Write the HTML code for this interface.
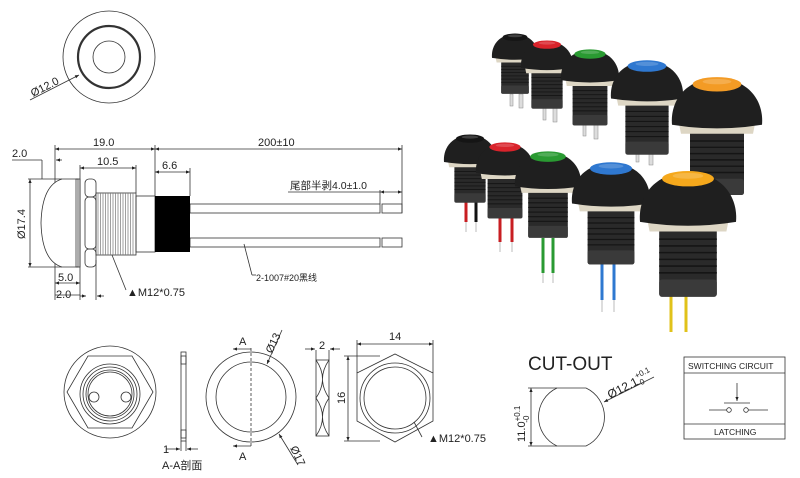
<!DOCTYPE html>
<html><head><meta charset="utf-8"><style>
html,body{margin:0;padding:0;background:#fff}
svg{display:block}
text{font-family:"Liberation Sans","Noto Sans CJK SC",sans-serif;fill:#222}
</style></head><body>
<svg width="800" height="478" viewBox="0 0 800 478" xmlns="http://www.w3.org/2000/svg">
<defs>
<marker id="ar" viewBox="0 0 10 10" refX="10" refY="5" markerWidth="7" markerHeight="5" orient="auto-start-reverse"><path d="M0,1 L10,5 L0,9 Z" fill="#222"/></marker>
<g id="btn">
<rect x="-30" y="56" width="60" height="74" rx="3" fill="#2a2a2a"/>
<rect x="-30" y="112" width="60" height="18" rx="3" fill="#3a3a3a"/>
<g stroke="#151515" stroke-width="1.6"><line x1="-30" y1="70" x2="30" y2="70"/><line x1="-30" y1="77" x2="30" y2="77"/><line x1="-30" y1="84" x2="30" y2="84"/><line x1="-30" y1="91" x2="30" y2="91"/><line x1="-30" y1="98" x2="30" y2="98"/><line x1="-30" y1="105" x2="30" y2="105"/></g>
<path d="M-42,52 L42,52 L40,62 L-40,62 Z" fill="#ddd6c4"/>
<path d="M-50,52 C-52,30 -40,2 0,0 C40,2 52,30 50,52 Q0,60 -50,52 Z" fill="#1f1f1f"/>
<ellipse cx="0" cy="7" rx="27" ry="8" fill="currentColor"/>
<ellipse cx="0" cy="4" rx="16" ry="3" fill="#fff" opacity="0.18"/>
</g>
</defs>
<g fill="none" stroke="#333" stroke-width="0.8">
<circle cx="109" cy="57" r="46"/>
<circle cx="109" cy="57" r="31" stroke-width="2.2"/>
<circle cx="109" cy="57" r="16"/>
<line x1="30" y1="100" x2="79" y2="75" marker-end="url(#ar)"/>
</g>
<text x="0" y="0" font-size="11" transform="translate(33,97) rotate(-27)">Ø12.0</text>

<g fill="none" stroke="#333" stroke-width="0.8">
<line x1="55" y1="149" x2="155" y2="149" marker-start="url(#ar)" marker-end="url(#ar)"/>
<line x1="155" y1="149" x2="402" y2="149" marker-start="url(#ar)" marker-end="url(#ar)"/>
<line x1="55" y1="145" x2="55" y2="300"/>
<line x1="155" y1="145" x2="155" y2="196"/>
<line x1="402" y1="145" x2="402" y2="213"/>
<line x1="12" y1="160" x2="42" y2="160"/>
<line x1="42" y1="160" x2="42" y2="179"/>
<line x1="62" y1="160" x2="56" y2="160" marker-end="url(#ar)"/>
<line x1="80" y1="168" x2="136" y2="168" marker-start="url(#ar)" marker-end="url(#ar)"/>
<line x1="80" y1="165" x2="80" y2="300"/>
<line x1="136" y1="165" x2="136" y2="193"/>
<line x1="155" y1="172" x2="190" y2="172" marker-start="url(#ar)" marker-end="url(#ar)"/>
<line x1="190" y1="168" x2="190" y2="196"/>
<line x1="30" y1="179" x2="30" y2="267" marker-start="url(#ar)" marker-end="url(#ar)"/>
<line x1="28" y1="179" x2="62" y2="179"/>
<line x1="28" y1="267" x2="62" y2="267"/>
<path d="M78,179 L62,179 Q42,185 41,223 Q42,261 62,267 L78,267 Z" fill="#fff"/>
<rect x="76" y="179" width="4" height="88"/>
<rect x="85" y="179" width="11" height="18" rx="4"/>
<rect x="85" y="197" width="11" height="52" rx="4"/>
<rect x="85" y="249" width="11" height="18" rx="4"/>
<rect x="96" y="193" width="40" height="62"/>
<rect x="136" y="196" width="19" height="56"/>
<line x1="55" y1="283" x2="80" y2="283" marker-start="url(#ar)" marker-end="url(#ar)"/>
<line x1="55" y1="295" x2="80" y2="295"/>
<line x1="96" y1="260" x2="96" y2="300"/>
<line x1="104" y1="296" x2="97" y2="296" marker-end="url(#ar)"/>
<line x1="80" y1="296" x2="86" y2="296" marker-end="url(#ar)"/>
<line x1="112" y1="255" x2="126" y2="290"/>
<rect x="190" y="204" width="190" height="9"/>
<rect x="382" y="204" width="20" height="9"/>
<rect x="190" y="238" width="190" height="9"/>
<rect x="382" y="238" width="20" height="9"/>
<line x1="288" y1="192" x2="380" y2="192"/>
<line x1="380" y1="190" x2="380" y2="204"/>
<line x1="380" y1="192" x2="402" y2="192" marker-start="url(#ar)" marker-end="url(#ar)"/>
<line x1="244" y1="244" x2="252" y2="275"/>
<line x1="252" y1="275" x2="256" y2="275"/>
</g>
<g stroke="#777" stroke-width="0.7">
<path d="M98,193v62M100.5,193v62M103,193v62M105.5,193v62M108,193v62M110.5,193v62M113,193v62M115.5,193v62M118,193v62M120.5,193v62M123,193v62M125.5,193v62M128,193v62M130.5,193v62M133,193v62"/>
</g>
<rect x="155" y="196" width="35" height="56" fill="#000"/>
<text x="93" y="146" font-size="11">19.0</text>
<text x="258" y="146" font-size="11">200±10</text>
<text x="12" y="157" font-size="11">2.0</text>
<text x="97" y="165" font-size="11">10.5</text>
<text x="162" y="169" font-size="11">6.6</text>
<text x="290" y="189" font-size="10.5">尾部半剥4.0±1.0</text>
<text font-size="11" transform="translate(25,239) rotate(-90)">Ø17.4</text>
<text x="58" y="281" font-size="11">5.0</text>
<text x="56" y="298" font-size="11">2.0</text>
<text x="127" y="296" font-size="11">▲M12*0.75</text>
<text x="256" y="281" font-size="9">2-1007#20黑线</text>

<g fill="none" stroke="#333" stroke-width="0.8">
<circle cx="110" cy="392" r="46"/>
<path d="M88,356 L132,356 L153,392 L132,428 L88,428 L67,392 Z"/>
<circle cx="110" cy="394" r="30"/>
<circle cx="110" cy="394" r="27"/>
<circle cx="110" cy="394" r="24"/>
<circle cx="110" cy="394" r="22"/>
<circle cx="94" cy="397" r="5"/>
<circle cx="126" cy="397" r="5"/>
<rect x="181" y="352" width="5" height="89"/>
<rect x="181" y="356" width="5" height="8"/>
<rect x="181" y="430" width="5" height="8"/>
<line x1="181" y1="441" x2="181" y2="451"/>
<line x1="186" y1="441" x2="186" y2="451"/>
<line x1="166" y1="449" x2="180" y2="449" marker-end="url(#ar)"/>
<line x1="198" y1="449" x2="187" y2="449" marker-end="url(#ar)"/>
<circle cx="251" cy="397" r="45"/>
<circle cx="251" cy="397" r="35"/>
<line x1="251" y1="348" x2="251" y2="447" stroke-dasharray="3,2"/>
<line x1="251" y1="349" x2="233" y2="349" marker-end="url(#ar)"/>
<line x1="251" y1="446" x2="233" y2="446" marker-end="url(#ar)"/>
<line x1="282" y1="330" x2="267" y2="364" marker-end="url(#ar)"/>
<line x1="298" y1="465" x2="279" y2="434" marker-end="url(#ar)"/>
<rect x="316" y="360" width="13" height="76"/>
<path d="M316,360 Q329,379 316,398 Q329,417 316,436 M329,360 Q316,379 329,398 Q316,417 329,436"/>
<line x1="316" y1="350" x2="316" y2="360"/><line x1="329" y1="350" x2="329" y2="360"/>
<line x1="305" y1="349" x2="315" y2="349" marker-end="url(#ar)"/>
<line x1="340" y1="349" x2="330" y2="349" marker-end="url(#ar)"/>
<path d="M357,373 L395,354 L433,373 L433,421 L395,442 L357,421 Z"/>
<circle cx="395" cy="398" r="35"/>
<circle cx="395" cy="398" r="31"/>
<line x1="357" y1="344" x2="433" y2="344" marker-start="url(#ar)" marker-end="url(#ar)"/>
<line x1="357" y1="340" x2="357" y2="373"/><line x1="433" y1="340" x2="433" y2="373"/>
<line x1="348" y1="356" x2="348" y2="441" marker-start="url(#ar)" marker-end="url(#ar)"/>
<line x1="344" y1="356" x2="380" y2="356"/><line x1="344" y1="441" x2="380" y2="441"/>
<line x1="414" y1="422" x2="422" y2="437"/>
</g>
<text x="163" y="453" font-size="11">1</text>
<text x="162" y="469" font-size="11">A-A剖面</text>
<text x="239" y="345" font-size="11">A</text>
<text x="239" y="460" font-size="11">A</text>
<text font-size="11" transform="translate(272,354) rotate(-65)">Ø13</text>
<text font-size="11" transform="translate(290,448) rotate(65)">Ø17</text>
<text x="319" y="349" font-size="11">2</text>
<text x="389" y="340" font-size="11">14</text>
<text font-size="11" transform="translate(345,404) rotate(-90)">16</text>
<text x="428" y="442" font-size="11">▲M12*0.75</text>

<text x="528" y="370" font-size="19">CUT-OUT</text>
<g fill="none" stroke="#333" stroke-width="0.8">
<path d="M557,388 L586,388 A32,32 0 0 1 586,446 L557,446 A32,32 0 0 1 557,388 Z"/>
<line x1="531" y1="388" x2="531" y2="446" marker-start="url(#ar)" marker-end="url(#ar)"/>
<line x1="528" y1="388" x2="557" y2="388"/><line x1="528" y1="446" x2="557" y2="446"/>
<line x1="654" y1="377" x2="604" y2="402" marker-end="url(#ar)"/>
<rect x="684" y="357" width="101" height="82"/>
<line x1="684" y1="373" x2="785" y2="373"/>
<line x1="684" y1="424" x2="785" y2="424"/>
<line x1="737" y1="383" x2="737" y2="401" marker-end="url(#ar)"/>
<line x1="724" y1="403" x2="750" y2="403"/>
<circle cx="729" cy="410" r="2.3"/><circle cx="746" cy="410" r="2.3"/>
<line x1="709" y1="410" x2="727" y2="410"/><line x1="748" y1="410" x2="768" y2="410"/>
</g>
<text font-size="11" transform="translate(525,442) rotate(-90)">11.0<tspan font-size="8" dy="-5">+0.1</tspan><tspan font-size="8" dx="-17" dy="9">-0</tspan></text>
<text font-size="12" transform="translate(610,399) rotate(-27)">Ø12.1<tspan font-size="8" dy="-6">+0.1</tspan><tspan font-size="8" dx="-17" dy="8">-0</tspan></text>
<text x="688" y="369" font-size="8.5">SWITCHING CIRCUIT</text>
<text x="714" y="435" font-size="8.5">LATCHING</text>

<g fill="#ddd" stroke="#888" stroke-width="0.5">
<rect x="510" y="94" width="3" height="12"/><rect x="519" y="94" width="4" height="14"/>
<rect x="543" y="108" width="3" height="12"/><rect x="553" y="108" width="4" height="14"/>
<rect x="583" y="124" width="3" height="12"/><rect x="594" y="124" width="4" height="15"/>
<rect x="636" y="150" width="3" height="12"/><rect x="649" y="150" width="4" height="15"/>
</g>
<use href="#btn" transform="translate(515,34) scale(0.46)" color="#151515"/>
<use href="#btn" transform="translate(547,41) scale(0.52)" color="#d9232b"/>
<use href="#btn" transform="translate(590,50) scale(0.58)" color="#2a9a32"/>
<use href="#btn" transform="translate(647,61) scale(0.72)" color="#2f78d0"/>
<use href="#btn" transform="translate(717,78) scale(0.90)" color="#f39b25"/>
<g stroke-width="3">
<line x1="466" y1="200" x2="466" y2="222" stroke="#c81e22"/><line x1="476" y1="200" x2="476" y2="222" stroke="#111"/>
<line x1="500" y1="215" x2="500" y2="242" stroke="#c81e22"/><line x1="512" y1="215" x2="512" y2="242" stroke="#c81e22"/>
<line x1="543" y1="238" x2="543" y2="273" stroke="#2a9a32"/><line x1="553" y1="238" x2="553" y2="273" stroke="#2a9a32"/>
<line x1="602" y1="262" x2="602" y2="300" stroke="#2f78d0"/><line x1="614" y1="262" x2="614" y2="300" stroke="#2f78d0"/>
<line x1="671" y1="295" x2="671" y2="332" stroke="#e0c21a"/><line x1="686" y1="295" x2="686" y2="332" stroke="#e0c21a"/>
</g>
<g stroke="#ddd" stroke-width="2">
<line x1="466" y1="222" x2="466" y2="232"/><line x1="476" y1="222" x2="476" y2="232"/>
<line x1="500" y1="242" x2="500" y2="252"/><line x1="512" y1="242" x2="512" y2="252"/>
<line x1="543" y1="273" x2="543" y2="283"/><line x1="553" y1="273" x2="553" y2="283"/>
<line x1="602" y1="300" x2="602" y2="312"/><line x1="614" y1="300" x2="614" y2="312"/>
</g>
<use href="#btn" transform="translate(470,135) scale(0.52)" color="#151515"/>
<use href="#btn" transform="translate(505,143) scale(0.58)" color="#d9232b"/>
<use href="#btn" transform="translate(548,152) scale(0.66)" color="#2a9a32"/>
<use href="#btn" transform="translate(611,163) scale(0.78)" color="#2f78d0"/>
<use href="#btn" transform="translate(688,172) scale(0.96)" color="#f5a81c"/>
</svg>
</body></html>
